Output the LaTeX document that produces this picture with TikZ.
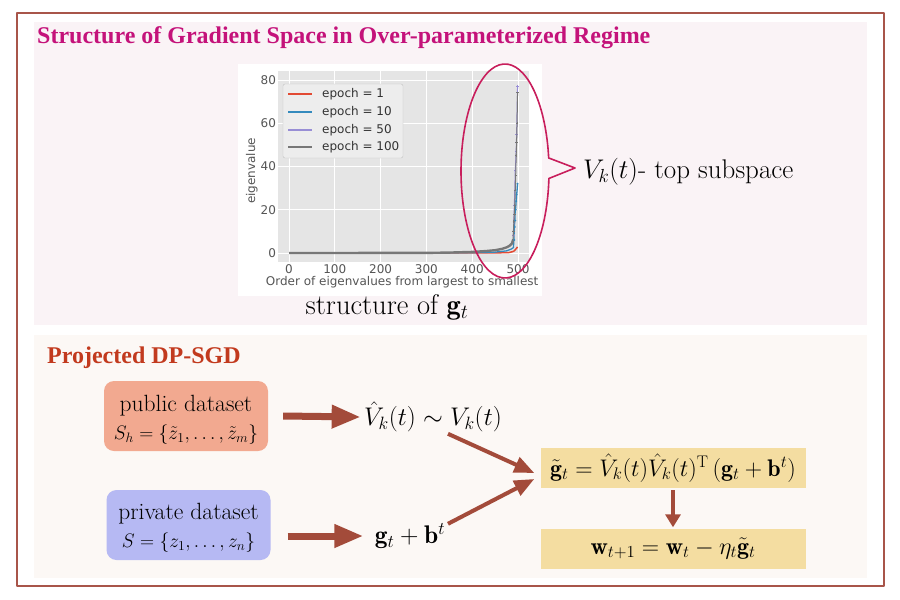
\documentclass[tikz,border=0pt]{standalone}
\usepackage{fix-cm}
\usepackage{amsmath}
\usepackage{fontspec}
\newfontfamily\headfont{Liberation Serif}
\newfontfamily\plotfont{DejaVu Sans}
\usetikzlibrary{arrows.meta}
\definecolor{frame}{HTML}{A8554A}
\definecolor{toppanel}{HTML}{FAF3F6}
\definecolor{botpanel}{HTML}{FCF8F5}
\definecolor{headpink}{HTML}{C4127A}
\definecolor{headred}{HTML}{C23A1E}
\definecolor{ring}{HTML}{C81E5C}
\definecolor{arrowbrown}{HTML}{A34B3A}
\definecolor{pubfill}{HTML}{F2A990}
\definecolor{privfill}{HTML}{B6B9F3}
\definecolor{formfill}{HTML}{F4DDA1}
\definecolor{axbg}{HTML}{E5E5E5}
\definecolor{ticktext}{HTML}{555555}
\definecolor{ep1}{HTML}{E24A33}
\definecolor{ep10}{HTML}{348ABD}
\definecolor{ep50}{HTML}{988ED5}
\definecolor{ep100}{HTML}{777777}

\begin{document}
\begin{tikzpicture}[x=1pt,y=-1pt,line join=round,
  headtitle/.style={font=\headfont\bfseries\fontsize{24}{28}\selectfont,anchor=base west,inner sep=0pt},
  ticklabel/.style={font=\plotfont\fontsize{12}{14}\selectfont,ticktext,inner sep=1pt},
  dataset/.style={rounded corners=10pt,minimum width=164pt,minimum height=70pt,align=center,
    font=\fontsize{23.5}{30}\selectfont},
  mathlabel/.style={font=\fontsize{25.5}{28}\selectfont},
  formbox/.style={fill=formfill,minimum width=265pt,minimum height=40pt,inner sep=0pt,
    font=\fontsize{24}{26}\selectfont},
  fatarrow/.style={arrowbrown,line width=7pt,-{Triangle[length=29pt,width=22pt]}},
  slantarrow/.style={arrowbrown,line width=4pt,-{Triangle[length=20pt,width=16pt]}},
  downarrow/.style={arrowbrown,line width=4pt,-{Triangle[length=13pt,width=15pt]}}]
  \useasboundingbox (0,0) rectangle (900,600);

  % frame and panels
  \draw[frame,line width=1.6pt] (17,13) rectangle (884,586);
  \fill[toppanel] (34,22) rectangle (867,325);
  \fill[botpanel] (34,335) rectangle (867,578);

  % top panel
  \node[headtitle,headpink] (toptitle) at (37,43) {Structure of Gradient Space in Over-parameterized Regime};
  \fill[white] (238,64) rectangle (542,296);
  \begin{scope}[shift={(289,253)},x=0.458pt,y=2.1625pt]
    \fill[axbg] (-24,-4) rectangle (524,84);
    \foreach \i in {0,100,...,500}{
      \draw[white,line width=0.8pt] (\i,-4) -- (\i,84);
      \node[ticklabel,anchor=north] at (\i,-5) {\i};
    }
    \foreach \v in {0,20,...,80}{
      \draw[white,line width=0.8pt] (-24,\v) -- (524,\v);
      \node[ticklabel,anchor=east] at (-26,\v) {\v};
    }
    \node[ticklabel,rotate=90] (ylab) at (-81,38) {eigenvalue};
    \node[ticklabel] (xlab) at (247,-13.6) {Order of eigenvalues from largest to smallest};
    % curves
    \draw[ep1,line width=1.5pt] plot coordinates {(0,0) (450,0.05) (480,0.2) (488,0.6) (492,1) (496,2) (499,2.8)};
    \draw[ep10,line width=1.3pt] plot coordinates {(0,0) (400,0.1) (450,0.4) (475,1) (485,1.8) (490,2.5) (491,6) (492,12)
      (493,15) (494,20) (495,21) (496,24) (497,27) (498,29) (499,32)};
    \draw[ep50,line width=1pt,mark=+,mark size=1.2pt] plot coordinates {(490,8) (492,22) (494,38) (496,47) (497,55) (499,77)};
    \draw[ep100,line width=2.4pt] plot coordinates {(0,0) (300,0.05) (350,0.2) (400,0.5) (430,0.9) (450,1.3) (465,1.9) (475,2.6)
      (482,3.4) (487,4.5) (489,6)};
    \draw[ep100,line width=1pt,mark=+,mark size=1.2pt] plot coordinates {(489,6) (490,10) (491,14.5) (492,18) (493,22)
      (494,29) (495,36) (496,45) (497,51) (498,60) (499,74)};
    \foreach \i/\v in {492/6,493/12,494/15,495/20,496/24,497/27,499/32}
      \fill[ep10] (\i,\v) circle (1.1pt);
  \end{scope}
  % legend
  \draw[axbg!85!black,fill=axbg!70!white,rounded corners=2pt] (283,84) rectangle (403,158);
  \foreach \ep/\col/\y in {1/ep1/94,10/ep10/112,50/ep50/130,100/ep100/147}{
    \draw[\col,line width=1.3pt] (288,\y) -- (312,\y);
    \fill[\col] (300,\y) circle (1.2pt);
    \node[ticklabel,anchor=west,black!80] (leg\ep) at (321,\y) {epoch = \ep};
  }
  \node[font=\fontsize{28.5}{30}\selectfont] (gcap) at (387,307) {structure of $\mathbf{g}_t$};
  % top subspace callout
  \coordinate (ellc) at (505,171);
  \coordinate (tip) at (575,168);
  \draw[ring,line width=1.6pt] ([shift={(-4:44pt and 107pt)}]ellc)
    arc[start angle=-4,end angle=-353,x radius=44pt,y radius=107pt] -- (tip) -- cycle;
  \node[font=\fontsize{27}{30}\selectfont,anchor=west,inner sep=0pt] (topsub) at (583,172) {$V_k(t)$- top subspace};

  % bottom panel
  \node[headtitle,headred] (bottitle) at (47,363) {Projected DP-SGD};
  \node[dataset,fill=pubfill] (pub) at (186,416) {\rule{0pt}{24pt}public dataset\\[-2pt] {\fontsize{19.5}{30}\selectfont$S_h=\{\tilde z_1,\dots,\tilde z_m\}$}};
  \node[dataset,fill=privfill] (priv) at (188.5,525) {\rule{0pt}{22pt}private dataset\\[-2pt] {\fontsize{19.5}{30}\selectfont$S=\{z_1,\dots,z_n\}$}};
  \node[mathlabel] (vhat) at (433,417) {$\hat V_k(t)\sim V_k(t)$};
  \node[mathlabel] (gb) at (410,536) {$\mathbf{g}_t+\mathbf{b}^t$};
  \node[formbox] (gt) at (673,468) {$\tilde{\mathbf{g}}_t=\hat V_k(t)\hat V_k(t)^{\mathrm{T}}\,(\mathbf{g}_t+\mathbf{b}^t)$};
  \node[formbox] (w) at (673,548.5) {$\mathbf{w}_{t+1}=\mathbf{w}_t-\eta_t\tilde{\mathbf{g}}_t$};

  \draw[fatarrow] ([xshift=15pt]pub.east) -- (vhat.west);
  \draw[fatarrow,shorten >=8pt] ([xshift=17pt,yshift=-11pt]priv.east) -- (gb.west);
  \draw[slantarrow] ([xshift=15pt,yshift=2pt]vhat.south) -- ([xshift=-6pt,yshift=-5pt]gt.west);
  \draw[slantarrow] ([xshift=38pt,yshift=-4pt]gb.north) -- ([xshift=-6pt,yshift=-11pt]gt.west);
  \draw[downarrow,shorten <=2pt,shorten >=1pt] (gt.south) -- (w.north);
\end{tikzpicture}
\end{document}
